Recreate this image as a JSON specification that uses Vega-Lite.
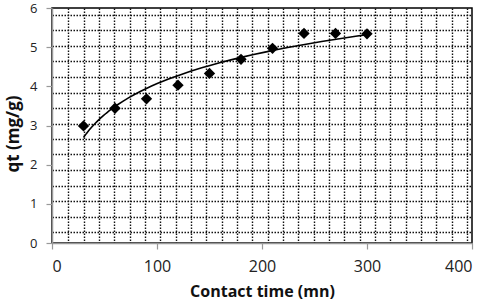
{
  "$schema": "https://vega.github.io/schema/vega-lite/v6.json",
  "width": 420,
  "height": 235,
  "autosize": {"type": "none"},
  "padding": {"left": 52, "top": 8, "right": 15, "bottom": 61},
  "background": "white",
  "config": {
    "view": {"stroke": "black", "strokeWidth": 1.5},
    "font": "Open Sans"
  },
  "data": {
    "values": [
      {"t": 30, "qt": 2.99},
      {"t": 60, "qt": 3.44},
      {"t": 90, "qt": 3.68},
      {"t": 120, "qt": 4.03},
      {"t": 150, "qt": 4.33},
      {"t": 180, "qt": 4.69},
      {"t": 210, "qt": 4.97},
      {"t": 240, "qt": 5.35},
      {"t": 270, "qt": 5.35},
      {"t": 300, "qt": 5.34}
    ]
  },
  "layer": [
    {
      "mark": {"type": "point", "shape": "diamond", "filled": true, "color": "black", "size": 128, "opacity": 1},
      "encoding": {
        "x": {
          "field": "t", "type": "quantitative",
          "scale": {"domain": [0, 400], "nice": false, "zero": false},
          "axis": {
            "orient": "bottom",
            "values": [15.6, 30.2, 44.8, 59.4, 74.0, 88.6, 103.2, 117.8, 132.4, 147.0, 161.6, 176.2, 190.8, 205.4, 220.0, 234.6, 249.2, 263.8, 278.4, 293.0, 307.6, 322.2, 336.8, 351.4, 366.0, 380.6, 395.2],
            "grid": true, "gridColor": "#111", "gridDash": [1.5, 1.5], "gridWidth": 1.4, "gridOpacity": 1,
            "labels": false, "ticks": false, "domain": false, "title": null
          }
        },
        "y": {
          "field": "qt", "type": "quantitative",
          "scale": {"domain": [0, 6], "nice": false, "zero": false},
          "axis": {
            "orient": "left",
            "values": [0.27, 0.67, 1.06, 1.46, 1.86, 2.26, 2.65, 3.05, 3.45, 3.84, 4.24, 4.64, 5.03, 5.43, 5.83],
            "grid": true, "gridColor": "#111", "gridDash": [1.5, 1.5], "gridWidth": 1.4, "gridOpacity": 1,
            "labels": false, "ticks": false, "domain": false, "title": null
          }
        }
      }
    },
    {
      "transform": [{"regression": "qt", "on": "t", "method": "log", "extent": [30, 300]}],
      "mark": {"type": "line", "color": "black", "strokeWidth": 1.6},
      "encoding": {
        "x": {
          "field": "t", "type": "quantitative",
          "axis": {
            "orient": "bottom",
            "values": [0, 100, 200, 300, 400],
            "grid": false,
            "domain": true, "domainColor": "#999", "domainWidth": 1.5,
            "ticks": true, "tickColor": "#999", "tickSize": 6, "tickWidth": 1.2,
            "labelFont": "Open Sans", "labelFontSize": 16, "labelColor": "#222", "labelPadding": 9,
            "title": "Contact time (mn)", "titleFont": "Open Sans", "titleFontSize": 16, "titleFontWeight": "bold", "titleColor": "#111", "titlePadding": 9
          }
        },
        "y": {
          "field": "qt", "type": "quantitative",
          "axis": {
            "orient": "left",
            "values": [0, 1, 2, 3, 4, 5, 6],
            "grid": false,
            "domain": true, "domainColor": "#999", "domainWidth": 1.5,
            "ticks": true, "tickColor": "#999", "tickSize": 6, "tickWidth": 1.2,
            "labelFont": "Open Sans", "labelFontSize": 13, "labelColor": "#222", "labelPadding": 9,
            "title": "qt (mg/g)", "titleFont": "Open Sans", "titleFontSize": 17, "titleFontWeight": "bold", "titleColor": "#111", "titlePadding": 7, "titleY": 125.5
          }
        }
      }
    }
  ],
  "resolve": {"axis": {"x": "independent", "y": "independent"}}
}
